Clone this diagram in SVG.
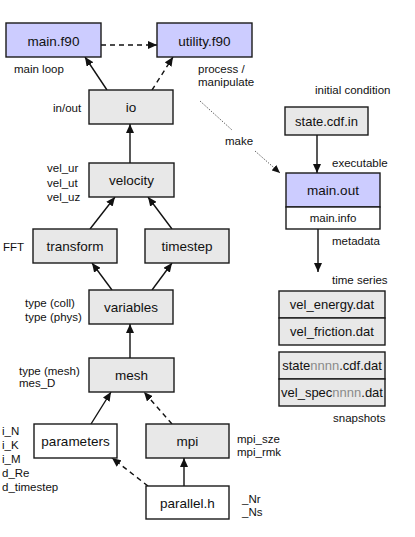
<svg xmlns="http://www.w3.org/2000/svg" width="415" height="537" viewBox="0 0 415 537">
<style>
.box{stroke:#1a1a1a;stroke-width:1.4}
.lav{fill:#ccccff}
.gry{fill:#e8e8e8}
.wht{fill:#ffffff}
.nt{font-family:"Liberation Sans",Arial,sans-serif;font-size:13.5px;fill:#111;text-anchor:middle}
.ft{font-family:"Liberation Sans",Arial,sans-serif;font-size:13px;fill:#111;text-anchor:middle}
.lb{font-family:"Liberation Sans",Arial,sans-serif;font-size:11.5px;fill:#111}
.c{fill:none;stroke:#111;stroke-width:1.4}
.d{stroke-dasharray:5,4}
.dot{fill:none;stroke:#333;stroke-width:1;stroke-dasharray:1,1.5}
</style>
<defs>
<marker id="ah" markerUnits="userSpaceOnUse" markerWidth="10" markerHeight="8" refX="9" refY="4" orient="auto">
<path d="M0,0 L9,4 L0,8 z" fill="#111"/>
</marker>
<marker id="ahs" markerUnits="userSpaceOnUse" markerWidth="9" markerHeight="7" refX="8" refY="3.5" orient="auto">
<path d="M0,0 L8,3.5 L0,7 z" fill="#111"/>
</marker>
</defs>
<rect width="415" height="537" fill="#fff"/>

<g id="connectors">
<line class="c d" x1="101" y1="45" x2="157" y2="45" marker-end="url(#ah)"/>
<line class="c" x1="107" y1="90" x2="85" y2="57" marker-end="url(#ah)"/>
<line class="c d" x1="152" y1="90" x2="173" y2="57" marker-end="url(#ah)"/>
<line class="c" x1="130" y1="163" x2="130" y2="124" marker-end="url(#ah)"/>
<line class="c" x1="90" y1="229" x2="115" y2="197" marker-end="url(#ah)"/>
<line class="c" x1="172" y1="229" x2="148" y2="197" marker-end="url(#ah)"/>
<line class="c" x1="112" y1="290" x2="92" y2="263" marker-end="url(#ah)"/>
<line class="c" x1="152" y1="290" x2="172" y2="263" marker-end="url(#ah)"/>
<line class="c" x1="130" y1="358" x2="130" y2="324" marker-end="url(#ah)"/>
<line class="c" x1="91" y1="424" x2="111" y2="392" marker-end="url(#ah)"/>
<line class="c d" x1="172" y1="424" x2="144" y2="392" marker-end="url(#ah)"/>
<line class="c d" x1="148" y1="486" x2="112" y2="458" marker-end="url(#ah)"/>
<line class="c" x1="184" y1="486" x2="184" y2="458" marker-end="url(#ah)"/>
<line class="c" x1="317" y1="135" x2="317" y2="173" marker-end="url(#ah)"/>
<line class="c" x1="318" y1="229" x2="318" y2="272" marker-end="url(#ah)"/>
<line class="dot" x1="200" y1="101" x2="232" y2="130"/>
<line class="dot" x1="255" y1="151" x2="280" y2="173" marker-end="url(#ahs)"/>
</g>

<g id="main_f90"><rect class="box lav" x="6" y="23" width="95" height="34"/><text class="nt" x="53.5" y="45.5">main.f90</text></g>
<g id="utility_f90"><rect class="box lav" x="157" y="23" width="95" height="34"/><text class="nt" x="204.5" y="45.5">utility.f90</text></g>
<g id="io"><rect class="box gry" x="89" y="90" width="84" height="34"/><text class="nt" x="131" y="112">io</text></g>
<g id="velocity"><rect class="box gry" x="89" y="163" width="85" height="34"/><text class="nt" x="131.5" y="185">velocity</text></g>
<g id="transform"><rect class="box gry" x="33" y="229" width="84" height="34"/><text class="nt" x="75" y="251">transform</text></g>
<g id="timestep"><rect class="box gry" x="145" y="229" width="84" height="34"/><text class="nt" x="187" y="251">timestep</text></g>
<g id="variables"><rect class="box gry" x="89" y="290" width="84" height="34"/><text class="nt" x="131" y="312">variables</text></g>
<g id="mesh"><rect class="box gry" x="89" y="358" width="85" height="34"/><text class="nt" x="131.5" y="380">mesh</text></g>
<g id="parameters"><rect class="box wht" x="34" y="424" width="83" height="34"/><text class="nt" x="75.5" y="446">parameters</text></g>
<g id="mpi"><rect class="box gry" x="146" y="424" width="83" height="34"/><text class="nt" x="187.5" y="446">mpi</text></g>
<g id="parallel_h"><rect class="box wht" x="146" y="486" width="83" height="33"/><text class="nt" x="187.5" y="507.5">parallel.h</text></g>
<g id="state_cdf_in"><rect class="box gry" x="285" y="107" width="83" height="28"/><text class="ft" x="326.5" y="125.5">state.cdf.in</text></g>
<g id="main_out"><rect class="box lav" x="286" y="173" width="94" height="34"/><text class="nt" x="333" y="195">main.out</text><rect class="box wht" x="286" y="207" width="94" height="22"/><text class="lb" x="333" y="222" text-anchor="middle">main.info</text></g>
<g id="time_series"><rect class="box gry" x="279" y="291" width="106" height="27"/><text class="ft" x="332" y="309">vel_energy.dat</text><rect class="box gry" x="279" y="318" width="106" height="27"/><text class="ft" x="332" y="336">vel_friction.dat</text></g>
<g id="snapshots"><rect class="box gry" x="279" y="352" width="106" height="27"/><text class="ft" x="332" y="370">state<tspan fill="#8a8a8a">nnnn</tspan>.cdf.dat</text><rect class="box gry" x="279" y="379" width="106" height="27"/><text class="ft" x="332" y="397">vel_spec<tspan fill="#8a8a8a">nnnn</tspan>.dat</text></g>

<g id="labels">
<text class="lb" x="14" y="73">main loop</text>
<text class="lb" x="198" y="72.5">process /</text>
<text class="lb" x="198" y="86">manipulate</text>
<text class="lb" x="53" y="112">in/out</text>
<text class="lb" x="315" y="94">initial condition</text>
<text class="lb" x="225" y="145">make</text>
<text class="lb" x="332" y="167">executable</text>
<text class="lb" x="332" y="245">metadata</text>
<text class="lb" x="332" y="284">time series</text>
<text class="lb" x="333" y="422">snapshots</text>
<text class="lb" x="47" y="172">vel_ur</text>
<text class="lb" x="47" y="186.5">vel_ut</text>
<text class="lb" x="47" y="201">vel_uz</text>
<text class="lb" x="3" y="250.5">FFT</text>
<text class="lb" x="25" y="307">type (coll)</text>
<text class="lb" x="25" y="320.5">type (phys)</text>
<text class="lb" x="19" y="374.5">type (mesh)</text>
<text class="lb" x="19" y="387">mes_D</text>
<text class="lb" x="2" y="434.5">i_N</text>
<text class="lb" x="2" y="449">i_K</text>
<text class="lb" x="2" y="463">i_M</text>
<text class="lb" x="2" y="477">d_Re</text>
<text class="lb" x="2" y="491">d_timestep</text>
<text class="lb" x="237" y="443">mpi_sze</text>
<text class="lb" x="237" y="456">mpi_rmk</text>
<text class="lb" x="242" y="503">_Nr</text>
<text class="lb" x="242" y="516">_Ns</text>
</g>
</svg>
